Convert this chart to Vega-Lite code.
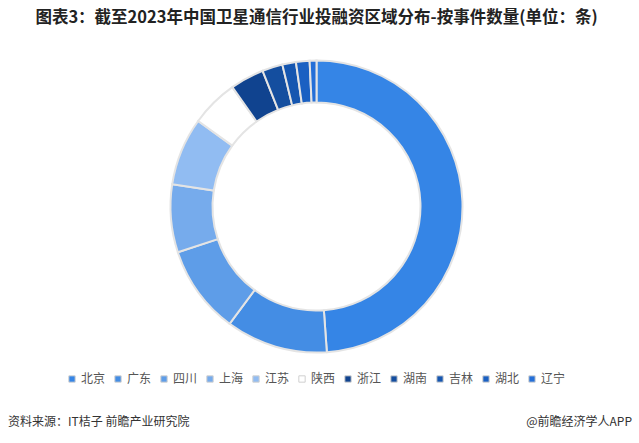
{
  "$schema": "https://vega.github.io/schema/vega-lite/v6.json",
  "width": 633,
  "height": 333,
  "autosize": {"type": "none"},
  "padding": {"left": 0, "right": 6, "top": 40, "bottom": 70},
  "background": "white",
  "title": {
    "text": "图表3：截至2023年中国卫星通信行业投融资区域分布-按事件数量(单位：条)",
    "font": "Noto Sans CJK SC",
    "fontSize": 16.5,
    "fontWeight": "bold",
    "color": "#222222",
    "anchor": "middle",
    "offset": 14
  },
  "config": {"view": {"stroke": null}},
  "data": {
    "values": [
      {"region": "北京", "count": 65},
      {"region": "广东", "count": 15},
      {"region": "四川", "count": 13},
      {"region": "上海", "count": 10},
      {"region": "江苏", "count": 10},
      {"region": "陕西", "count": 7},
      {"region": "浙江", "count": 5},
      {"region": "湖南", "count": 3},
      {"region": "吉林", "count": 2},
      {"region": "湖北", "count": 2},
      {"region": "辽宁", "count": 1}
    ]
  },
  "layer": [
    {
      "mark": {"type": "arc", "radius": 146, "innerRadius": 104, "stroke": "#e4e4e4", "strokeWidth": 2},
      "encoding": {
        "theta": {"field": "count", "type": "quantitative", "stack": true},
        "order": {"field": "count", "type": "quantitative", "sort": "descending"},
        "color": {
          "field": "region",
          "type": "nominal",
          "sort": ["北京", "广东", "四川", "上海", "江苏", "陕西", "浙江", "湖南", "吉林", "湖北", "辽宁"],
          "scale": {
            "domain": ["北京", "广东", "四川", "上海", "江苏", "陕西", "浙江", "湖南", "吉林", "湖北", "辽宁"],
            "range": ["#3585e6", "#448de4", "#5e9de8", "#76abec", "#91bcf2", "#ffffff", "#10438f", "#144e9f", "#1556b0", "#1a60c2", "#246fd8"]
          },
          "legend": {
            "title": null,
            "orient": "none",
            "direction": "horizontal",
            "legendX": 66,
            "legendY": 333,
            "symbolType": "square",
            "symbolSize": 40,
            "symbolStrokeColor": "#d0d0d0",
            "symbolStrokeWidth": 1,
            "labelFont": "Noto Sans CJK SC",
            "labelFontSize": 12,
            "labelColor": "#555555",
            "labelOffset": 3,
            "columnPadding": 6
          }
        }
      }
    },
    {
      "data": {"values": [{"t": "资料来源：IT桔子 前瞻产业研究院"}]},
      "mark": {"type": "text", "align": "left", "baseline": "middle", "font": "Noto Sans CJK SC", "fontSize": 12, "color": "#333333"},
      "encoding": {"text": {"field": "t"}, "x": {"value": 8}, "y": {"value": 382}}
    },
    {
      "data": {"values": [{"t": "@前瞻经济学人APP"}]},
      "mark": {"type": "text", "align": "right", "baseline": "middle", "font": "Noto Sans CJK SC", "fontSize": 12, "color": "#333333"},
      "encoding": {"text": {"field": "t"}, "x": {"value": 632}, "y": {"value": 382}}
    }
  ]
}
